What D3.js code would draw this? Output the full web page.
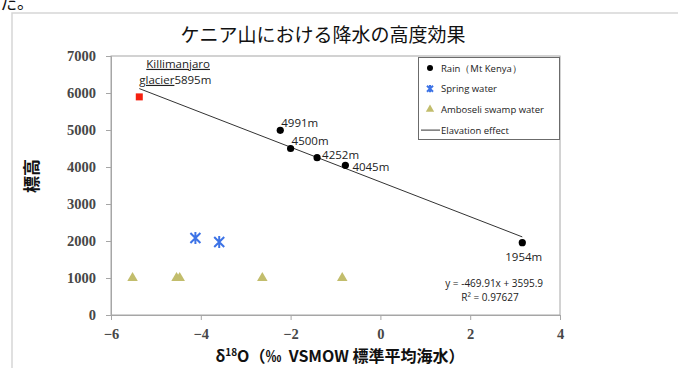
<!DOCTYPE html>
<html>
<head>
<meta charset="utf-8">
<script src="https://cdn.jsdelivr.net/npm/d3@7"></script>
<style>
  html, body { margin: 0; padding: 0; background: #fff; }
  svg { display: block; }
</style>
</head>
<body>
<svg id="chart" width="678" height="368"></svg>
<script>
// δ18O (‰) vs altitude (m)
const rainX = [-2.23, -2.0, -1.41, -0.78, 3.16];
const rainY = [4991, 4500, 4252, 4045, 1954];
const rainLabels = ["4991m", "4500m", "4252m", "4045m", "1954m"];

const glacierX = [-5.37];
const glacierY = [5895];

const springX = [-4.12, -3.59];
const springY = [2081, 1973];

const swampX = [-5.52, -4.54, -4.47, -2.63, -0.85];
const swampY = [1000, 1000, 1000, 1000, 1000];

// Linear fit y = a*x + b
const fitSlope = -469.91;
const fitIntercept = 3595.9;
const fitR2 = "0.97627";
const fitRange = [-5.37, 3.16];

const xTicks = [-6, -4, -2, 0, 2, 4];
const yTicks = [0, 1000, 2000, 3000, 4000, 5000, 6000, 7000];

const titleText = "ケニア山における降水の高度効果";
const xTitleParts = ["δ", "18", "O（‰\u00a0\u00a0VSMOW 標準平均海水）"];
const yTitle = "標高";
const legendItems = ["Rain（Mt Kenya）", "Spring water", "Amboseli swamp water", "Elavation effect"];

const svg = d3.select("#chart");
const W = 678, H = 368;
const plot = { left: 111, right: 560, top: 56, bottom: 315 };

const x = d3.scaleLinear().domain([-6, 4]).range([plot.left, plot.right]);
const y = d3.scaleLinear().domain([0, 7000]).range([plot.bottom, plot.top]);

const sans = "'Open Sans', 'Liberation Sans', sans-serif";
const cjk = "'Noto Sans CJK JP', sans-serif";
const serif = "'Liberation Serif', serif";

svg.append("rect").attr("width", W).attr("height", H).attr("fill", "#fff");

// fragment of surrounding page text
svg.append("text").attr("x", 0).attr("y", 9)
  .attr("font-family", cjk).attr("font-size", 17).attr("fill", "#111")
  .text("た。");

// outer chart frame
svg.append("path")
  .attr("d", `M12,${H + 2} L12,13 L${W + 2},13`)
  .attr("fill", "none").attr("stroke", "#d6d6d6").attr("stroke-width", 1.5);

// title
svg.append("text").attr("x", 323).attr("y", 42).attr("text-anchor", "middle")
  .attr("font-family", cjk).attr("font-size", 19).attr("fill", "#111")
  .text(titleText);

// plot area frame
svg.append("rect")
  .attr("x", plot.left).attr("y", plot.top)
  .attr("width", plot.right - plot.left).attr("height", plot.bottom - plot.top)
  .attr("fill", "none").attr("stroke", "#a6a6a6").attr("stroke-width", 1);

// axes
const xAxis = svg.append("g").attr("transform", `translate(0,${plot.bottom})`)
  .call(d3.axisBottom(x).tickValues(xTicks).tickSize(5).tickPadding(9).tickFormat(d3.format("d")));
const yAxis = svg.append("g").attr("transform", `translate(${plot.left},0)`)
  .call(d3.axisLeft(y).tickValues(yTicks).tickSize(5).tickPadding(10).tickFormat(d3.format("d")));
[xAxis, yAxis].forEach(g => {
  g.select(".domain").attr("stroke", "#a6a6a6");
  g.selectAll(".tick line").attr("stroke", "#a6a6a6");
  g.selectAll(".tick text").attr("font-family", serif).attr("font-size", 14.5)
    .attr("font-weight", "bold").attr("fill", "#474747");
});

// axis titles
const xt = svg.append("text").attr("x", 340).attr("y", 362).attr("text-anchor", "middle")
  .attr("font-family", cjk).attr("font-size", 16).attr("font-weight", "bold").attr("fill", "#111");
xt.append("tspan").text(xTitleParts[0]);
xt.append("tspan").attr("dy", -6).attr("font-size", 10).text(xTitleParts[1]);
xt.append("tspan").attr("dy", 6).text(xTitleParts[2]);

svg.append("text").attr("transform", "translate(38,176) rotate(-90)").attr("text-anchor", "middle")
  .attr("font-family", cjk).attr("font-size", 17).attr("font-weight", "bold").attr("fill", "#111")
  .text(yTitle);

// fit line
svg.append("line")
  .attr("x1", x(fitRange[0])).attr("y1", y(fitSlope * fitRange[0] + fitIntercept))
  .attr("x2", x(fitRange[1])).attr("y2", y(fitSlope * fitRange[1] + fitIntercept))
  .attr("stroke", "#333").attr("stroke-width", 1);

// swamp water triangles
const tri = d3.symbol().type(d3.symbolTriangle).size(48);
svg.append("g").selectAll("path").data(swampX).join("path")
  .attr("transform", (d, i) => `translate(${x(d)},${y(swampY[i])})`)
  .attr("d", tri).attr("fill", "#c2bd6c");

// spring water stars
const star = (g, cx, cy, r) => {
  g.append("path")
    .attr("d", `M${cx - r},${cy - r}L${cx + r},${cy + r}M${cx - r},${cy + r}L${cx + r},${cy - r}M${cx},${cy - r * 1.2}L${cx},${cy + r * 1.2}`)
    .attr("stroke", "#3d73e6").attr("stroke-width", 2).attr("fill", "none");
};
const springG = svg.append("g");
springX.forEach((d, i) => star(springG, x(d), y(springY[i]), 5));

// glacier square
svg.append("g").selectAll("rect").data(glacierX).join("rect")
  .attr("x", d => x(d) - 3.5).attr("y", (d, i) => y(glacierY[i]) - 3.5)
  .attr("width", 7).attr("height", 7).attr("fill", "#f5200f");

// rain points
svg.append("g").selectAll("circle").data(rainX).join("circle")
  .attr("cx", d => x(d)).attr("cy", (d, i) => y(rainY[i])).attr("r", 3.6).attr("fill", "#000");

// rain labels
const labelOffsets = [[1, -3], [1, -4], [5, 1], [7, 6], [-17, 18]];
svg.append("g").selectAll("text").data(rainLabels).join("text")
  .attr("x", (d, i) => x(rainX[i]) + labelOffsets[i][0])
  .attr("y", (d, i) => y(rainY[i]) + labelOffsets[i][1])
  .attr("font-family", sans).attr("font-size", 11.5).attr("fill", "#222")
  .text(d => d);

// glacier label
const gx = x(glacierX[0]), gy = y(glacierY[0]);
svg.append("text").attr("x", gx + 7).attr("y", gy - 29)
  .attr("font-family", sans).attr("font-size", 11.5).attr("fill", "#222")
  .attr("text-decoration", "underline").text("Killimanjaro");
const gl = svg.append("text").attr("x", gx).attr("y", gy - 13)
  .attr("font-family", sans).attr("font-size", 11.5).attr("fill", "#222");
gl.append("tspan").attr("text-decoration", "underline").text("glacier");
gl.append("tspan").text(glacierY[0] + "m");

// regression equation
svg.append("text").attr("x", 543).attr("y", 287).attr("text-anchor", "end")
  .attr("font-family", sans).attr("font-size", 10).attr("fill", "#222")
  .text(`y = ${fitSlope}x + ${fitIntercept}`);
svg.append("text").attr("x", 490).attr("y", 301).attr("text-anchor", "middle")
  .attr("font-family", sans).attr("font-size", 10).attr("fill", "#222")
  .text(`R² = ${fitR2}`);

// legend
const lg = svg.append("g");
lg.append("rect").attr("x", 418.5).attr("y", 57.5).attr("width", 141).attr("height", 82)
  .attr("fill", "#fff").attr("stroke", "#6b6b6b").attr("stroke-width", 1);
const rowY = i => 68 + i * 20.7;
lg.selectAll("text").data(legendItems).join("text")
  .attr("x", 441).attr("y", (d, i) => rowY(i) + 3.5)
  .attr("font-family", sans).attr("font-size", 9.5).attr("fill", "#222")
  .text(d => d);
lg.append("circle").attr("cx", 430).attr("cy", rowY(0)).attr("r", 3).attr("fill", "#000");
star(lg, 430, rowY(1), 3);
lg.append("path").attr("transform", `translate(430,${rowY(2)})`)
  .attr("d", d3.symbol().type(d3.symbolTriangle).size(30)).attr("fill", "#c2bd6c");
lg.append("line").attr("x1", 421).attr("x2", 440).attr("y1", rowY(3)).attr("y2", rowY(3))
  .attr("stroke", "#333").attr("stroke-width", 1);
</script>
</body>
</html>
